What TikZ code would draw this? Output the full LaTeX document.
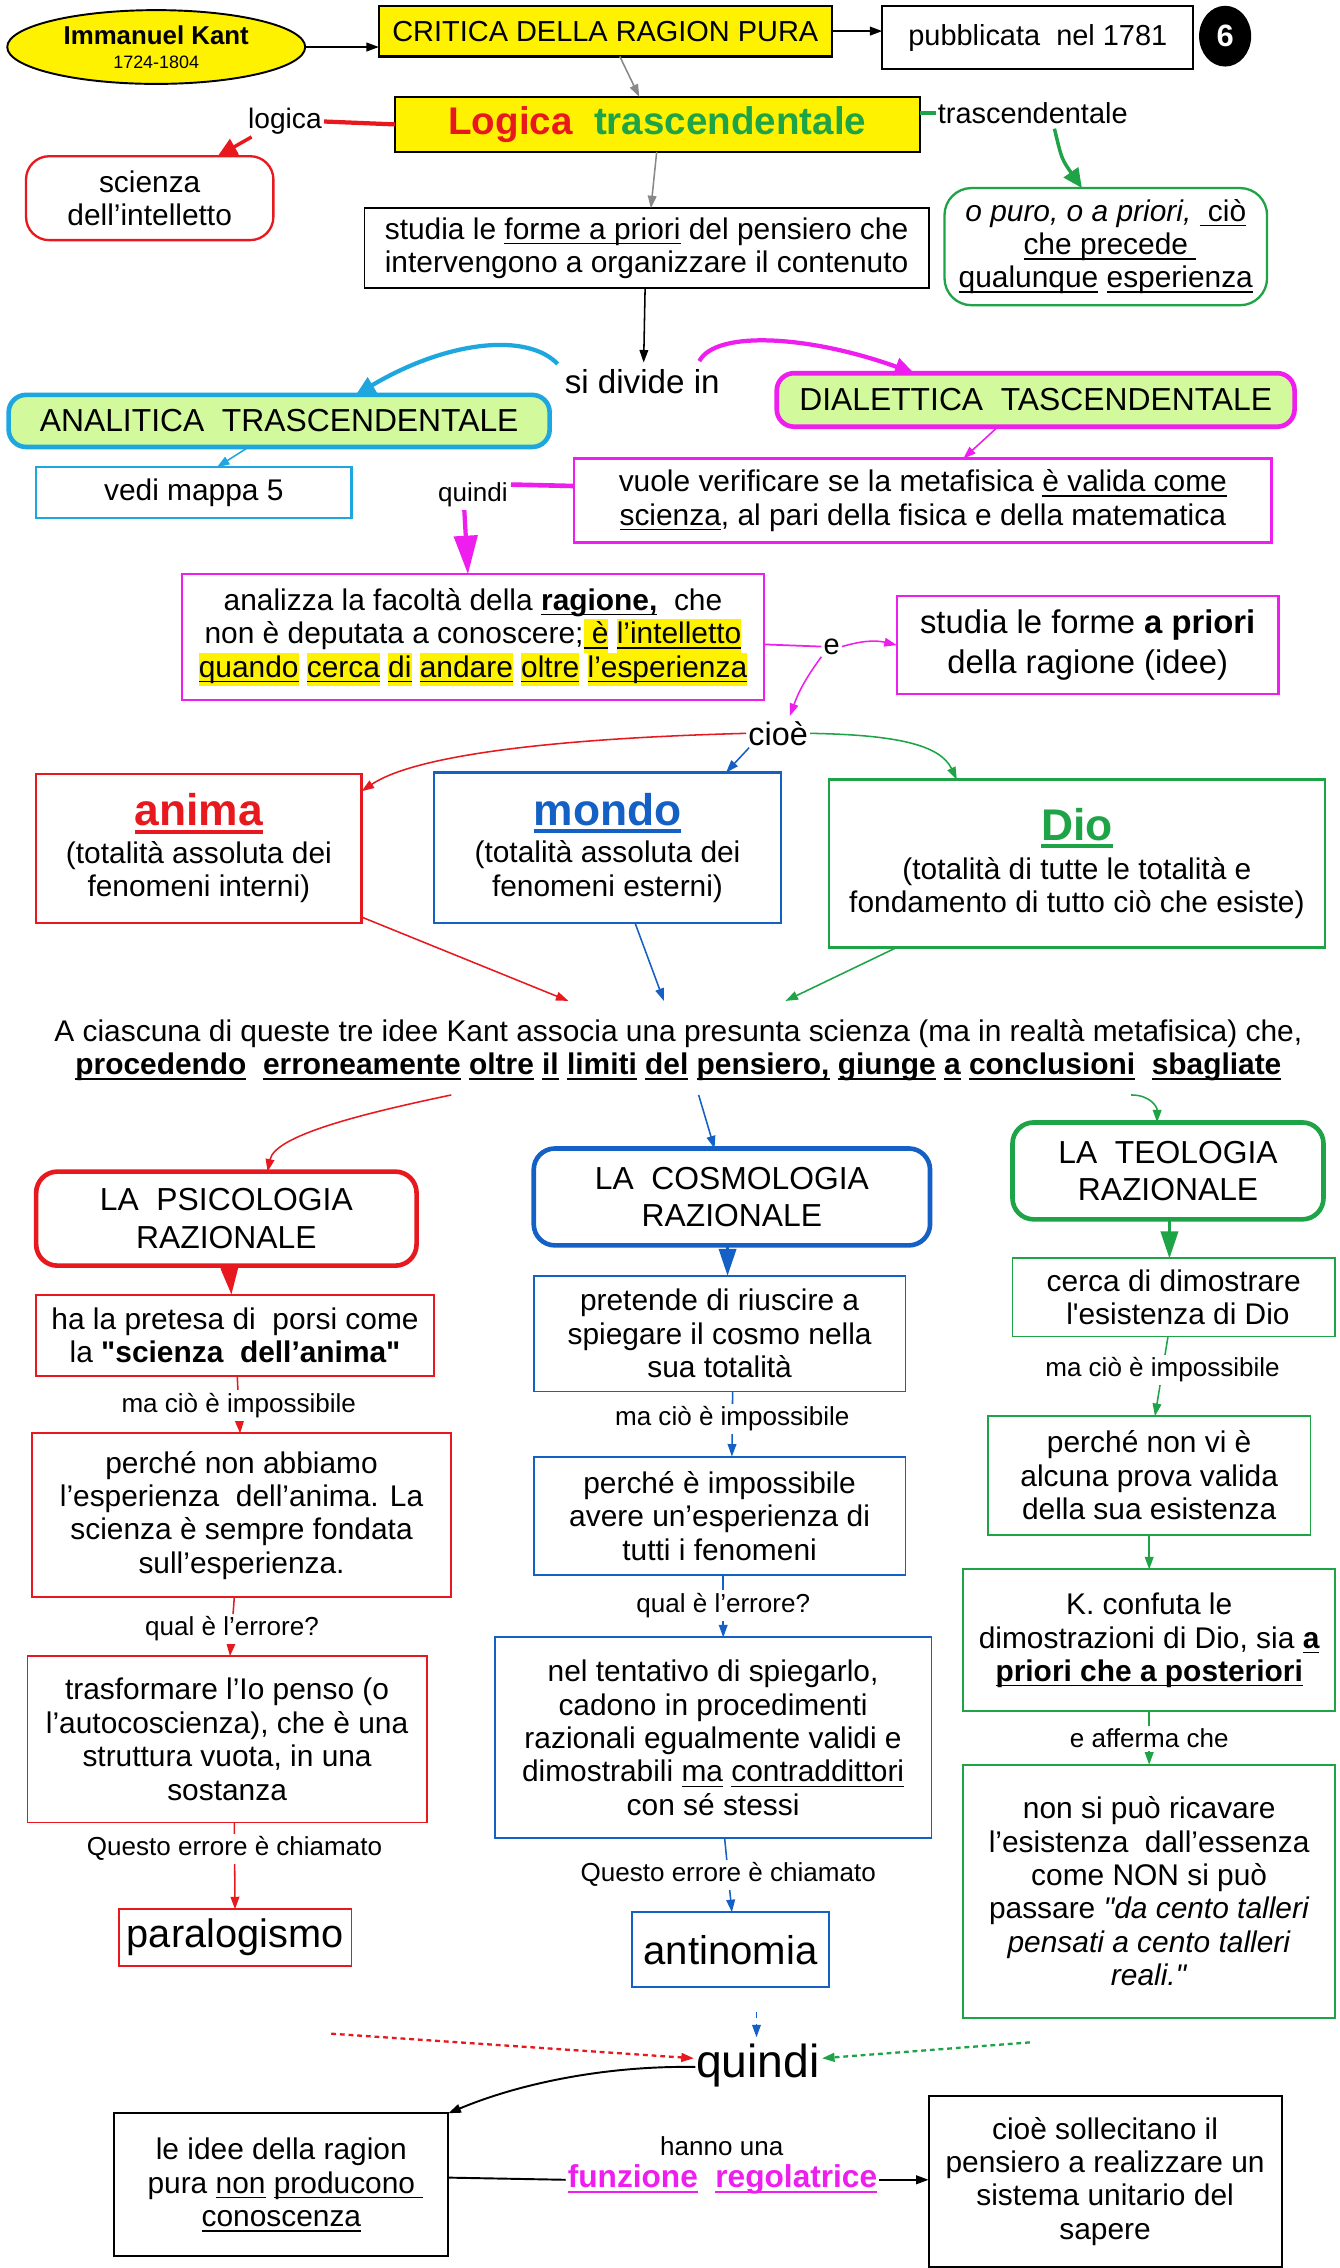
\documentclass[tikz,border=0pt]{standalone}
\usepackage{fontspec}
\setmainfont{Liberation Sans}[Ligatures=TeXOff]
\usetikzlibrary{arrows.meta,shapes.geometric,calc}
\definecolor{cred}{HTML}{E8191E}
\definecolor{cblue}{HTML}{1560C4}
\definecolor{cgreen}{HTML}{1FA347}
\definecolor{cmag}{HTML}{EE1EEE}
\definecolor{ccyan}{HTML}{1EA7DF}
\definecolor{lgreen}{HTML}{D2F99B}
\definecolor{cgray}{HTML}{888888}
\newcommand\fbody{\fontsize{15.5}{17.3}\selectfont}
\newcommand\flab{\fontsize{13.5}{15}\selectfont}
\newcommand\fhead{\fontsize{16.5}{19.5}\selectfont}
\newcommand\fbig{\fontsize{23}{26}\selectfont}
\newlength\ulwd
\newcommand\ul[1]{\settowidth\ulwd{#1}\rlap{\rule[-2.6pt]{\ulwd}{0.75pt}}#1}
\newcommand\ulk[1]{\settowidth\ulwd{#1}\rlap{\rule[-4pt]{\ulwd}{2pt}}#1}
\newcommand\hw[1]{\settowidth\ulwd{#1}\rlap{\textcolor{yellow}{\rule[-4.6pt]{\ulwd}{17.3pt}}}\rlap{\rule[-2.6pt]{\ulwd}{0.75pt}}#1}
\tikzset{
  bx/.style n args={4}{rectangle, draw, inner sep=0pt, outer sep=0pt, align=center, font=\fbody, line width=1pt,
    minimum width={(#3-#1)*0.75pt}, minimum height={(#4-#2)*0.75pt}, at={({(#1+#3)/2},{(#2+#4)/2})}},
  lab/.style={inner sep=1.5pt, font=\flab, fill=white, text=black},
  ar/.style={-{Triangle[length=6.5pt,width=4.5pt]}, line width=0.8pt},
  bigar/.style={-{Triangle[length=10pt,width=9pt]}, line width=2.2pt},
  hdar/.style={-{Triangle[length=14pt,width=9pt]}, line width=1.4pt},
  hdr/.style={rounded corners=11pt, line width=2.4pt, font=\fhead},
}
\begin{document}
\begin{tikzpicture}[x=0.75pt,y=-0.75pt]
\fill[white] (0,0) rectangle (926,1568);
\useasboundingbox (0,0) rectangle (926,1568);

% ---- top ----
\node[ellipse, draw, fill=yellow, line width=1pt, minimum width=206*0.75pt, minimum height=51*0.75pt, inner sep=0pt, align=center, font=\fontsize{13.4}{12.5}\selectfont\bfseries] (kant) at (108,32.5) {Immanuel Kant\\{\mdseries\fontsize{9.3}{12.5}\selectfont 1724-1804}};
\node[bx={262}{4}{575}{39}, fill=yellow, line width=1.2pt, font=\fontsize{15}{17}\selectfont] (crit) {CRITICA DELLA RAGION PURA};
\node[bx={610}{4}{825}{48}, font=\fontsize{15}{17}\selectfont] (pub) {pubblicata\ \ nel 1781};
\node[ellipse, fill=black, minimum width=36*0.75pt, minimum height=42*0.75pt, inner sep=0pt, text=white, font=\fontsize{16}{18}\selectfont\bfseries] (six) at (847,25) {6};
\draw[ar, line width=1pt] (kant.east) -- (kant.east -| crit.west);
\draw[ar, line width=1pt] (crit.east) -- (crit.east -| pub.west);

\node[bx={273}{67}{636}{105}, fill=yellow, line width=1.2pt, font=\fontsize{20}{22}\selectfont\bfseries] (logica) {\textcolor{cred}{Logica}\ \ \textcolor{cgreen}{trascendentale}};
\draw[ar, cgray] ($(crit.south)+(10,0)$) -- ($(logica.north)+(-12.5,0)$);

\node[inner sep=1pt, font=\fontsize{14.6}{16}\selectfont] (llog) at (197,84) {logica};
\node[bx={18}{108}{189}{166}, draw=cred, rounded corners=12pt, line width=1.2pt] (scienza) {scienza\\dell’intelletto};
\draw[cred, line width=2.2pt] (logica.west) -- (llog.east);
\draw[cred, bigar, line width=1.8pt] ($(llog.south west)+(4,0)$) -- ($(scienza.north)+(47,0)$);

\node[inner sep=1pt, font=\fontsize{15}{17}\selectfont] (ltr) at (714,78) {trascendentale};
\node[bx={653}{130}{876}{211}, draw=cgreen, rounded corners=14pt, line width=1.2pt] (opuro) {\textit{o puro, o a priori,}\ \ul{\ ciò}\\\ul{che precede\ }\\\ul{qualunque}\ \ul{esperienza}};
\draw[cgreen, line width=2.2pt] (ltr.west -| logica.east) -- (ltr.west);
\draw[cgreen, bigar, line width=1.8pt] ($(ltr.south)+(15,2)$) .. controls (734,110) .. ($(opuro.north)+(-16.5,0)$);

\node[bx={252}{144}{642}{199}] (studia) {studia le \ul{forme a priori} del pensiero che\\intervengono a organizzare il contenuto};
\draw[ar, cgray] ($(logica.south)+(-0.5,0)$) -- ($(studia.north)+(3,0)$);

\node[font=\fontsize{17.2}{19}\selectfont, inner sep=2pt] (divide) at (444,264) {si divide in};
\draw[ar] ($(studia.south)+(-1,0)$) -- ($(divide.north)+(1,-2)$);

\node[bx={6}{273}{380}{309}, draw=ccyan, fill=lgreen, rounded corners=9pt, line width=2.4pt, font=\fhead] (anal) {ANALITICA\ \ TRASCENDENTALE};
\node[bx={537}{258}{895}{295}, draw=cmag, fill=lgreen, rounded corners=9pt, line width=2.4pt, font=\fhead] (dial) {DIALETTICA\ \ TASCENDENTALE};
\draw[ccyan, bigar] ($(divide.north west)+(-2,-1)$) .. controls (365,230) and (310,235) .. ($(anal.north)+(53,0)$);
\draw[cmag, bigar] ($(divide.north east)+(-17,-3)$) .. controls (495,228) and (560,232) .. ($(dial.north)+(-84,0)$);

\node[bx={25}{323}{243}{358}, draw=ccyan, line width=1.2pt] (vedi) {vedi mappa 5};
\draw[ccyan, ar] ($(anal.south)+(-21,0)$) -- ($(vedi.north)+(16,0)$);

\node[bx={397}{317}{879}{375}, draw=cmag, line width=1.2pt] (vuole) {vuole verificare se la metafisica \ul{è valida come}\\\ul{scienza}, al pari della fisica e della matematica};
\draw[cmag, ar] ($(dial.south)+(-26,0)$) -- ($(vuole.north)+(28,0)$);

\node[inner sep=1.5pt, font=\flab] (lq) at (327,342) {quindi};
\node[bx={126}{397}{528}{484}, draw=cmag, line width=1.2pt] (analiz) {analizza la facoltà della \textbf{\ul{ragione,}}\ \ che\\non è deputata a conoscere;\hw{\ è} \hw{l’intelletto}\\\hw{quando} \hw{cerca} \hw{di} \hw{andare} \hw{oltre} \hw{l’esperienza}};
\draw[cmag, line width=2.4pt] ($(vuole.west)+(0,-10)$) -- ($(lq.east)+(0,-7)$);
\draw[cmag, -{Triangle[length=20pt,width=12pt]}, line width=2.2pt] ($(lq.south)+(-6,0)$) -- ($(analiz.north)+(-3.5,0)$);

\node[bx={620}{412}{884}{480}, draw=cmag, line width=1.2pt, font=\fontsize{17}{21}\selectfont] (forme) {studia le forme \textbf{a priori}\\della ragione (idee)};
\node[font=\fontsize{15}{17}\selectfont, inner sep=1pt] (le) at (575,447) {e};
\node[font=\fontsize{16.8}{18}\selectfont, inner sep=1pt] (cioe) at (538,507) {cioè};
\draw[cmag, line width=0.9pt] ($(analiz.east)+(0,5)$) -- (le.west);
\draw[cmag, ar] (le.east) to[bend left=15] (forme.west);
\draw[cmag, ar] (le.south west) to[bend right=8] ($(cioe.north)+(8,-2)$);

% ---- three ideas ----
\node[bx={25}{535}{250}{638}, draw=cred, line width=1.2pt] (anima) {{\fbig\bfseries\color{cred}\ulk{anima}}\\[2.2pt](totalità assoluta dei\\fenomeni interni)};
\node[bx={300}{534}{540}{638}, draw=cblue, line width=1.2pt] (mondo) {{\fbig\bfseries\color{cblue}\ulk{mondo}}\\[2.2pt](totalità assoluta dei\\fenomeni esterni)};
\node[bx={573}{539}{916}{655}, draw=cgreen, line width=1.2pt] (dio) {{\fbig\bfseries\color{cgreen}\ulk{Dio}}\\[2.7pt](totalità di tutte le totalità e\\fondamento di tutto ciò che esiste)};
\draw[cred, ar] (cioe.west) .. controls (400,510) and (290,520) .. ($(anima.north east)+(0,12)$);
\draw[cblue, ar] ($(cioe.south west)+(2,0)$) -- ($(mondo.north)+(82,0)$);
\draw[cgreen, ar] (cioe.east) .. controls (620,508) and (650,515) .. ($(dio.north)+(-83,0)$);

\node[bx={30}{692}{908}{760}, draw=none] (assoc) {A ciascuna di queste tre idee Kant associa una presunta scienza (ma in realtà metafisica) che,\\\textbf{\ul{procedendo}\ \ \ul{erroneamente}\ \ul{oltre}\ \ul{il}\ \ul{limiti}\ \ul{del}\ \ul{pensiero,}\ \ul{giunge}\ \ul{a}\ \ul{conclusioni}\ \ \ul{sbagliate}}};
\draw[cred, ar] ($(anima.south east)+(0,-4)$) -- ($(assoc.north west)+(363,0)$);
\draw[cblue, ar] ($(mondo.south)+(19,0)$) -- ($(assoc.north west)+(429,0)$);
\draw[cgreen, ar] ($(dio.south west)+(47,0)$) -- ($(assoc.north west)+(513,0)$);

% ---- three sciences ----
\node[bx={25}{810}{288}{875}, hdr, draw=cred] (psi) {LA\ \ PSICOLOGIA\\RAZIONALE};
\node[bx={369}{794}{643}{861}, hdr, draw=cblue] (cosmo) {LA\ \ COSMOLOGIA\\RAZIONALE};
\node[bx={700}{776}{915}{843}, hdr, draw=cgreen] (teo) {LA\ \ TEOLOGIA\\RAZIONALE};
\draw[cred, ar] ($(assoc.south west)+(282,-3)$) .. controls (250,770) and (190,785) .. ($(psi.north)+(28.5,0)$);
\draw[cblue, ar] ($(assoc.south west)+(453,-3)$) -- ($(cosmo.north)+(-12,0)$);
\draw[cgreen, ar] ($(assoc.south west)+(752,-3)$) .. controls (795,757) and (800,765) .. ($(teo.north)+(-7.5,0)$);

\node[bx={25}{895}{300}{951}, draw=cred] (pret) {ha la pretesa di\ \ porsi come\\la \textbf{"scienza\ \ dell’anima"}};
\node[bx={369}{882}{626}{962}, draw=cblue] (pretende) {pretende di riuscire a\\spiegare il cosmo nella\\sua totalità};
\node[bx={700}{870}{923}{924}, draw=cgreen] (cerca) {cerca di dimostrare\\\ l'esistenza di Dio};
\draw[cred, hdar] ($(psi.south)+(2,0)$) -- ($(pret.north)+(-2.5,0)$);
\draw[cblue, hdar] ($(cosmo.south)+(-3,0)$) -- ($(pretende.north)+(5.5,0)$);
\draw[cgreen, hdar] ($(teo.south)+(1,0)$) -- ($(cerca.north)+(-3,0)$);

\node[bx={22}{991}{312}{1104}, draw=cred] (abb) {perché non abbiamo\\l’esperienza\ \ dell’anima. La\\scienza è sempre fondata\\sull’esperienza.};
\node[bx={369}{1007}{626}{1089}, draw=cblue] (imposs) {perché è impossibile\\avere un’esperienza di\\tutti i fenomeni};
\node[bx={683}{979}{906}{1061}, draw=cgreen] (provav) {perché non vi è\\alcuna prova valida\\della sua esistenza};
\draw[cred, ar] ($(pret.south)+(1.5,0)$) -- node[lab, pos=0.52] {ma ciò è impossibile} ($(abb.north)+(-1,0)$);
\draw[cblue, ar] ($(pretende.south)+(9,0)$) -- node[lab, pos=0.42] {ma ciò è impossibile} ($(imposs.north)+(8.5,0)$);
\draw[cgreen, ar] ($(cerca.south)+(-4,0)$) -- node[lab, pos=0.42] {ma ciò è impossibile} ($(provav.north)+(4,0)$);

\node[bx={19}{1145}{295}{1260}, draw=cred] (trasf) {trasformare l’Io penso (o\\l’autocoscienza), che è una\\struttura vuota, in una\\sostanza};
\node[bx={342}{1132}{644}{1271}, draw=cblue] (nel) {nel tentativo di spiegarlo,\\cadono in procedimenti\\razionali egualmente validi e\\dimostrabili \ul{ma} \ul{contraddittori}\\con sé stessi};
\node[bx={666}{1085}{923}{1183}, draw=cgreen] (confuta) {K. confuta le\\dimostrazioni di Dio, sia \textbf{\ul{a}}\\\textbf{\ul{priori che a posteriori}}};
\draw[cred, ar] ($(abb.south)+(-5,0)$) -- node[lab, pos=0.54] {qual è l’errore?} ($(trasf.north)+(2,0)$);
\draw[cblue, ar] ($(imposs.south)+(2.5,0)$) -- node[lab, pos=0.49] {qual è l’errore?} ($(nel.north)+(7,0)$);
\draw[cgreen, ar] (provav.south) -- (provav.south |- confuta.north);

\node[bx={666}{1220}{923}{1395}, draw=cgreen] (nonsi) {non si può ricavare\\l’esistenza\ \ dall’essenza\\come NON si può\\passare \textit{"da cento talleri}\\\textit{pensati a cento talleri}\\\textit{reali."}};
\draw[cgreen, ar] (confuta.south) -- node[lab, pos=0.51] {e afferma che} (nonsi.north);

\node[bx={82}{1320}{243}{1359}, draw=cred, font=\fontsize{20.6}{22}\selectfont] (paral) {paralogismo};
\node[bx={437}{1322}{573}{1374}, draw=cblue, font=\fontsize{20.8}{22}\selectfont] (antin) {antinomia};
\draw[cred, ar] ($(trasf.south)+(5,0)$) -- node[lab, pos=0.3] {Questo errore è chiamato} (paral.north);
\draw[cblue, ar] ($(nel.south)+(8,0)$) -- node[lab, pos=0.49] {Questo errore è chiamato} ($(antin.north)+(1,0)$);

% ---- bottom ----
\node[font=\fontsize{24}{26}\selectfont, inner sep=1pt] (qu) at (524,1428) {quindi};
\coordinate (rd) at (229,1406);
\coordinate (gd) at (712,1412);
\draw[cblue, ar, dashed] ($(antin.south)+(18,17)$) -- ($(qu.north)+(-1,-3)$);
\draw[cred, ar, line width=1.2pt, dash pattern=on 2.5pt off 2pt] (rd) -- ($(qu.west)+(0,-5)$);
\draw[cgreen, ar, line width=1.2pt, dash pattern=on 2.5pt off 2pt] (gd) -- ($(qu.east)+(0,-5)$);

\node[bx={79}{1461}{310}{1560}] (idee) {le idee della ragion\\pura \ul{non}\ \ul{producono\ }\\\ul{conoscenza}};
\node[bx={642}{1449}{886}{1567}] (sistema) {cioè sollecitano il\\pensiero a realizzare un\\sistema unitario del\\sapere};
\draw[ar, line width=1pt] ($(qu.west)+(1,1)$) .. controls (420,1428) and (360,1440) .. (idee.north east);
\node[font=\flab, inner sep=1pt] (hu) at (499,1484) {hanno una};
\node[font=\fontsize{16.4}{18}\selectfont\bfseries, text=cmag, inner sep=1pt] (fr) at (499.5,1507) {\ul{funzione}\ \ \ul{regolatrice}};
\draw[line width=1pt] ($(idee.east)+(0,-5)$) -- (fr.west);
\draw[ar, line width=1pt] (fr.east) -- (fr.east -| sistema.west);
\end{tikzpicture}
\end{document}
